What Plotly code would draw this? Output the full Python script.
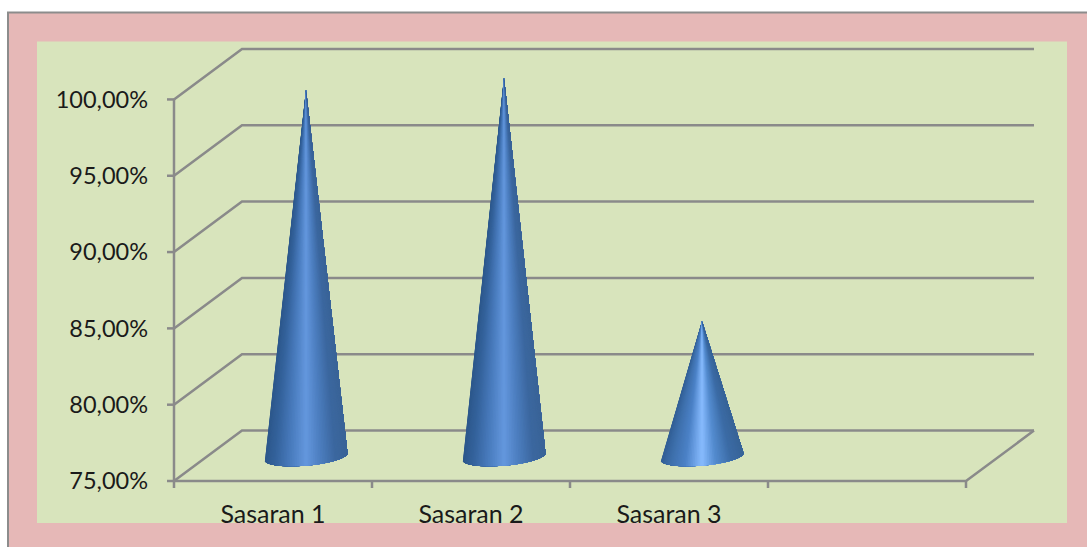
import numpy as np
import plotly.graph_objects as go

categories = ["Sasaran 1", "Sasaran 2", "Sasaran 3"]
values = [98.98, 99.77, 83.82]
y_ticks = [75, 80, 85, 90, 95, 100]
y_labels = ["75,00%", "80,00%", "85,00%", "90,00%", "95,00%", "100,00%"]
slots = [0, 1, 2, 3, 4]

W, H = 1087, 547
L, R, T, B = 174, 1035, 48.5, 481
PAD = 9
TICK = 7
UNIT_X = 198.0
UNIT_Y = 15.28
DEPTH_X = 68 / UNIT_X
DEPTH_Y = 50.5 / UNIT_Y
GRID = "#8a8a8a"

# colour across a cone, left edge to right edge
profile_pos = [0.0, 0.12, 0.3, 0.5, 0.66, 0.85, 1.0]
profile_tall = [(45, 88, 140), (52, 98, 155), (72, 122, 188), (100, 152, 222),
                (78, 128, 194), (60, 104, 160), (58, 100, 152)]
profile_short = [(50, 95, 150), (62, 112, 172), (76, 130, 200), (136, 188, 255),
                 (84, 140, 208), (60, 108, 166), (56, 100, 152)]

fig = go.Figure()


def line(xs, ys):
    fig.add_trace(go.Scatter(x=xs, y=ys, mode="lines", showlegend=False,
                             hoverinfo="skip", line=dict(color=GRID, width=2.5)))


xmax = slots[-1] + DEPTH_X
for v in y_ticks:
    line([0, DEPTH_X, xmax], [v, v + DEPTH_Y, v + DEPTH_Y])
    line([-TICK / UNIT_X, 0], [v, v])
line([0, 0], [y_ticks[0], y_ticks[-1]])
line([0, slots[-1], xmax], [75, 75, 75 + DEPTH_Y])
for s in slots:
    line([s, s], [75, 75 - TICK / UNIT_Y])


def mix(pos, prof):
    return "rgb(%d,%d,%d)" % tuple(np.interp(pos, profile_pos, [c[i] for c in prof]) for i in range(3))


RX = 41.5 / UNIT_X
RY = 9.0 / UNIT_Y
TILT = 3.5 / UNIT_Y
N = 70
for i, (name, v) in enumerate(zip(categories, values)):
    cx = i + 0.5 + DEPTH_X / 2 - 1 / UNIT_X
    cy = 75 + DEPTH_Y / 2 - 0.06
    top = v + DEPTH_Y / 2
    prof = profile_short if v < 90 else profile_tall
    th = np.linspace(np.pi, 2 * np.pi, N + 1)
    ex = cx + RX * np.cos(th)
    ey = cy + RY * np.sin(th) + TILT * np.cos(th)
    for k in range(N):
        pos = (0.5 * (ex[k] + ex[k + 1]) - ex[0]) / (ex[-1] - ex[0])
        col = mix(pos, prof)
        # each slice runs to the far edge, the next one is painted over it
        fig.add_trace(go.Scatter(
            x=np.r_[cx, ex[k:], cx], y=np.r_[top, ey[k:], top],
            mode="lines", fill="toself", fillcolor=col, showlegend=False, hoverinfo="skip",
            line=dict(color=col, width=0)))

xfont = dict(family="Lato, Carlito, sans-serif", size=25, color="#1a1a1a")
yfont = dict(family="Lato, Carlito, sans-serif", size=23.5, color="#1a1a1a")

PL, PR, PT, PB = L - PAD, R + PAD, T - PAD, B + PAD


def px(x):
    return (x - PL) / (PR - PL)


def py(y):
    return (PB - y) / (PB - PT)


fig.update_layout(
    width=W, height=H, autosize=False,
    margin=dict(l=PL, r=W - PR, t=PT, b=H - PB, pad=0),
    paper_bgcolor="white", plot_bgcolor="rgba(0,0,0,0)",
    showlegend=False,
    shapes=[
        dict(type="rect", xref="paper", yref="paper", layer="below",
             x0=px(8), x1=px(1090), y0=py(550), y1=py(12),
             fillcolor="#e6b8b7", line=dict(color="#8c8c8c", width=2)),
        dict(type="rect", xref="paper", yref="paper", layer="below",
             x0=px(37), x1=px(1067), y0=py(523), y1=py(41),
             fillcolor="#d8e4bc", line=dict(width=0)),
    ],
    xaxis=dict(range=[-PAD / UNIT_X, (R - L + PAD) / UNIT_X], showgrid=False, zeroline=False, showline=False,
               tickmode="array", tickvals=[s + 0.5 for s in slots[:3]], ticktext=categories,
               ticks="", tickfont=xfont, ticklabelstandoff=7),
    yaxis=dict(range=[75 - PAD / UNIT_Y, 75 + (B - T + PAD) / UNIT_Y], showgrid=False, zeroline=False, showline=False,
               tickmode="array", tickvals=y_ticks, ticktext=y_labels,
               ticks="", tickfont=yfont, ticklabelstandoff=16),
)

fig.write_html("out.html", config=dict(displayModeBar=False),
               post_script="document.body.style.margin='0';document.body.style.overflow='hidden';")
